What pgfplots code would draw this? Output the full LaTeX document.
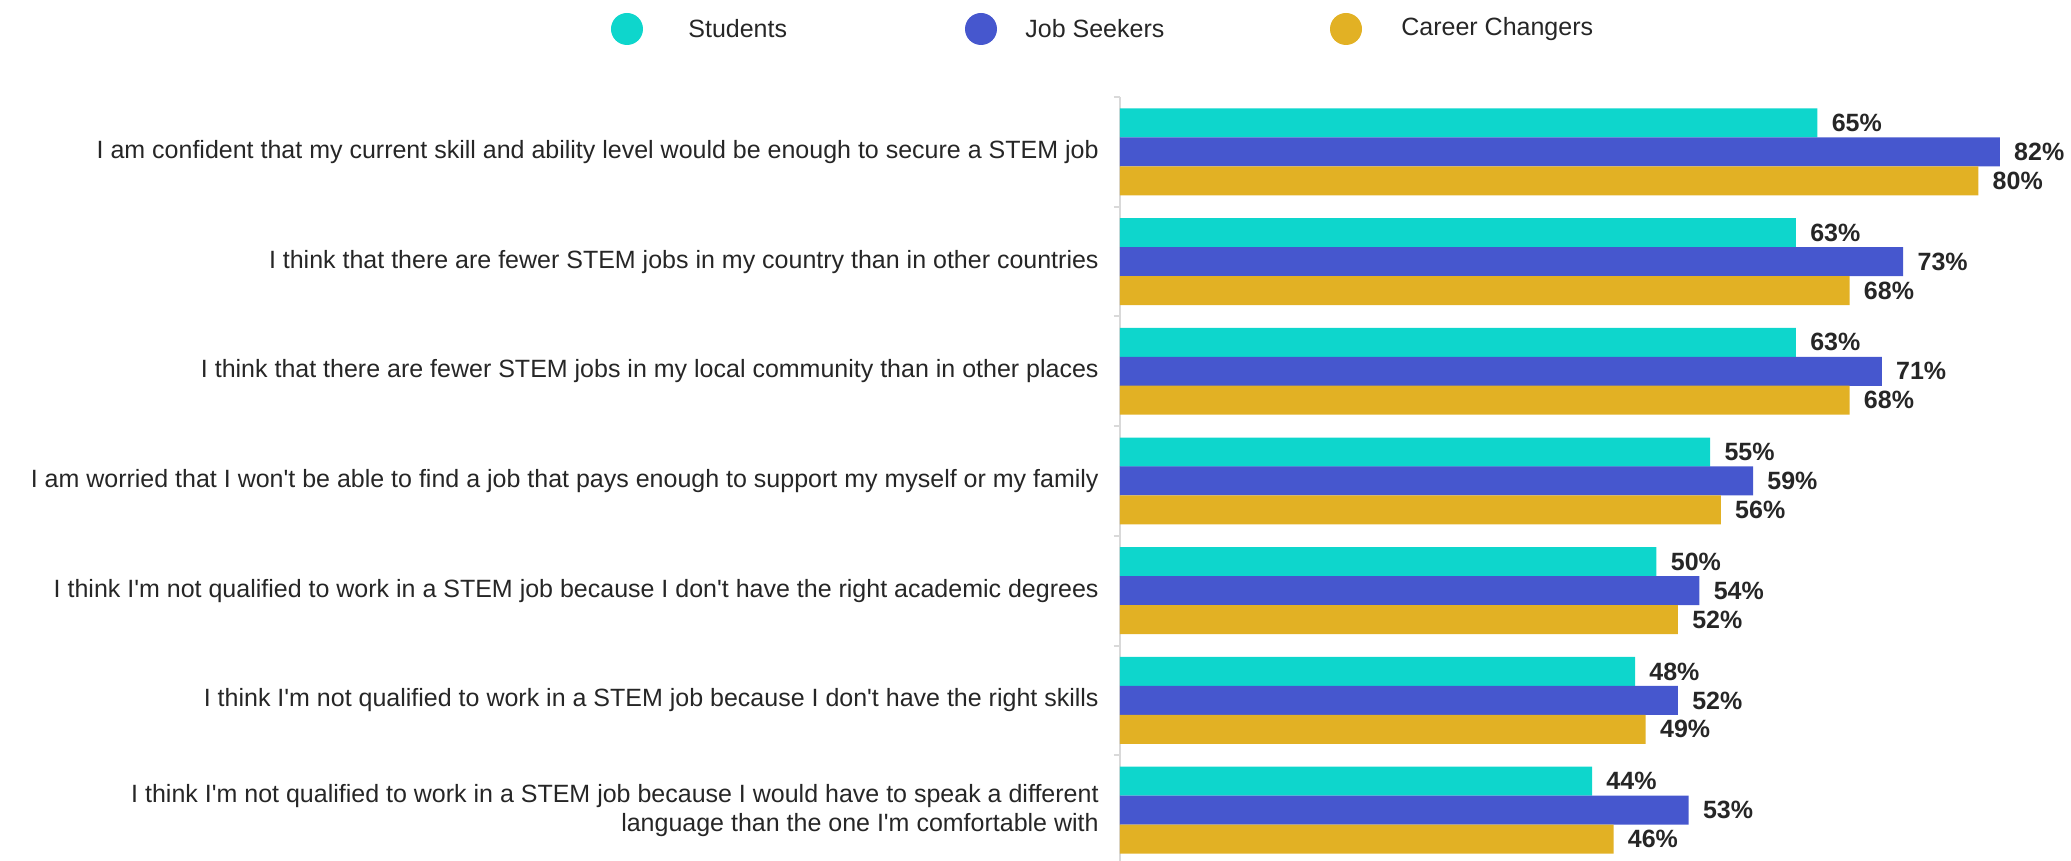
\documentclass[border=0pt]{standalone}
\usepackage{fontspec}
\setmainfont{Liberation Sans}[Ligatures=TeXOff]
\usepackage{pgfplots}
\usepackage{pgfplotstable}
\pgfplotsset{compat=1.18}

\definecolor{stud}{HTML}{0ED6CC}
\definecolor{seek}{HTML}{4657CE}
\definecolor{chng}{HTML}{E2B124}
\definecolor{txt}{HTML}{262626}
\definecolor{axgray}{HTML}{D9D9D9}

\newcommand\lab{\fontsize{12.5}{14.5}\selectfont}

% g = statement (6 = top one), pct = share agreeing
\pgfplotstableread{
g pct
6 65
5 63
4 63
3 55
2 50
1 48
0 44
}\students
\pgfplotstableread{
g pct
6 82
5 73
4 71
3 59
2 54
1 52
0 53
}\seekers
\pgfplotstableread{
g pct
6 80
5 68
4 68
3 56
2 52
1 49
0 46
}\changers

\begin{document}
\begin{tikzpicture}
% page = 2071x861 px at 0.5pt per px; axis box runs a little below the page
\path[use as bounding box] (-560pt,-0.5pt) rectangle (475.5pt,430pt);
\begin{axis}[
    at={(0,-2.5pt)}, anchor=south west,
    scale only axis, width=472.1pt, height=384pt,
    xbar, bar width=14.5pt, bar shift=0pt,
    xmin=0, xmax=88, ymin=-0.5, ymax=6.5,
    axis x line=none, axis y line*=left,
    y axis line style={axgray, line width=1pt},
    ytick={0,...,6},
    yticklabels={
        {I think I'm not qualified to work in a STEM job because I would have to speak a different\\language than the one I'm comfortable with},
        I think I'm not qualified to work in a STEM job because I don't have the right skills,
        I think I'm not qualified to work in a STEM job because I don't have the right academic degrees,
        I am worried that I won't be able to find a job that pays enough to support my myself or my family,
        I think that there are fewer STEM jobs in my local community than in other places,
        I think that there are fewer STEM jobs in my country than in other countries,
        I am confident that my current skill and ability level would be enough to secure a STEM job},
    major tick length=0pt,
    extra y ticks={-0.5,0.5,...,6.5},
    extra y tick labels={},
    extra y tick style={major tick length=3pt, tick align=outside,
        tick style={axgray, line width=1pt}},
    yticklabel style={font=\lab, text=txt, align=right, inner sep=0pt, xshift=-10.5pt},
    point meta=x,
    /pgf/number format/assume math mode=true,
    nodes near coords={\pgfmathprintnumber{\pgfplotspointmeta}\%},
    nodes near coords style={font=\lab\bfseries, text=txt, anchor=west,
        inner sep=0pt, xshift=7pt},
    clip=false,
]
\addplot[fill=stud, draw=none] table[x=pct, y expr=\thisrow{g}+0.264] {\students};
\addplot[fill=seek, draw=none] table[x=pct, y=g] {\seekers};
\addplot[fill=chng, draw=none] table[x=pct, y expr=\thisrow{g}-0.264] {\changers};
\end{axis}
% legend
\fill[stud] (-246.5pt,415.5pt) circle (8pt);
\node[anchor=west, font=\lab, text=txt, inner sep=0pt] at (-216pt,415.5pt) {Students};
\fill[seek] (-69.5pt,415.5pt) circle (8pt);
\node[anchor=west, font=\lab, text=txt, inner sep=0pt] at (-47.5pt,415.5pt) {Job Seekers};
\fill[chng] (113pt,415.5pt) circle (8pt);
\node[anchor=west, font=\lab, text=txt, inner sep=0pt] at (140.5pt,415.5pt) {Career Changers};
\end{tikzpicture}
\end{document}
